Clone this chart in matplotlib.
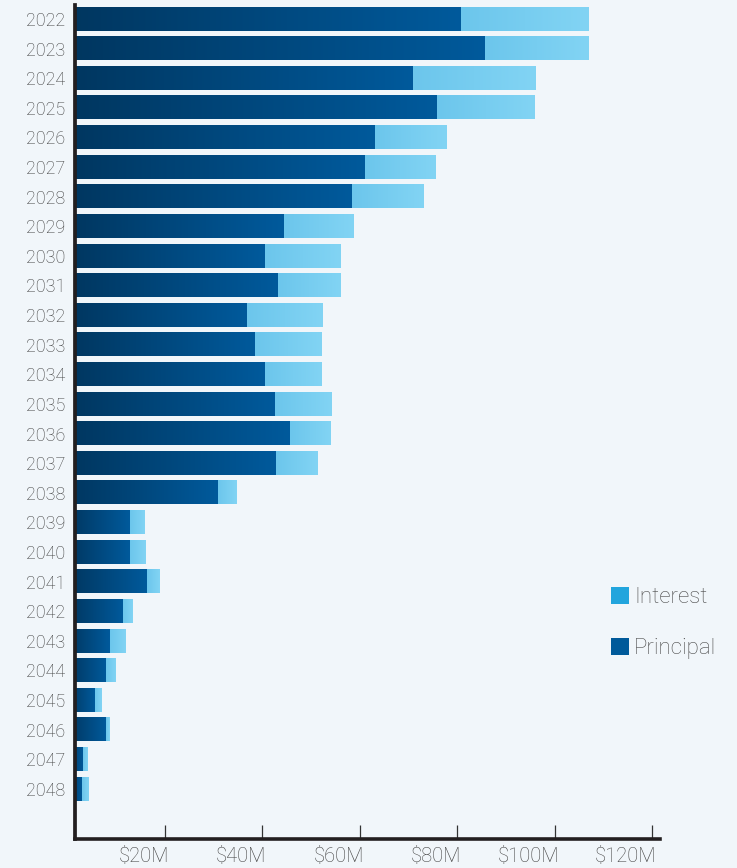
import numpy as np
import matplotlib
matplotlib.use("Agg")
import matplotlib.pyplot as plt
from matplotlib.colors import LinearSegmentedColormap
from matplotlib.patches import Patch
from matplotlib.transforms import ScaledTranslation

# debt service by year, $M
years = [str(y) for y in range(2022, 2049)]
principal = [80.8, 85.7, 70.9, 75.9, 63.1, 61.1, 58.4, 44.4, 40.5, 43.2,
             36.8, 38.5, 40.5, 42.6, 45.7, 42.8, 30.9, 12.8, 12.8, 16.3,
             11.4, 8.7, 7.9, 5.6, 7.9, 3.2, 3.0]
interest = [26.1, 21.2, 25.1, 20.1, 14.6, 14.5, 14.6, 14.2, 15.6, 12.9,
            15.4, 13.7, 11.7, 11.5, 8.4, 8.6, 3.9, 2.9, 3.1, 2.5,
            2.0, 3.1, 2.0, 1.3, 0.8, 1.0, 1.4]
xticks = [20, 40, 60, 80, 100, 120]
xticklabels = ['$20M', '$40M', '$60M', '$80M', '$100M', '$120M']

bg = '#f1f6fa'
plt.rcParams['font.family'] = ['Roboto', 'DejaVu Sans']
plt.rcParams['font.weight'] = 'light'

fig = plt.figure(figsize=(7.37, 8.68), dpi=100, facecolor=bg)
W, H = 737, 868
ax = fig.add_axes([75 / W, 1 - 839 / H, (660 - 75) / W, (839 - 5) / H])
ax.set_facecolor(bg)

ypos = np.arange(len(years))
pbars = ax.barh(ypos, principal, height=0.79, color='#004a80', zorder=2)
ibars = ax.barh(ypos, interest, left=principal, height=0.79, color='#78cff1', zorder=2)


def gradient_fill(bar, c0, c1):
    x0, y0 = bar.get_x(), bar.get_y()
    w, h = bar.get_width(), bar.get_height()
    cmap = LinearSegmentedColormap.from_list('g', [c0, c1])
    grad = np.linspace(0, 1, 256).reshape(1, -1)
    im = ax.imshow(grad, cmap=cmap, aspect='auto', interpolation='bilinear',
                   extent=(x0, x0 + w, y0 + h, y0), zorder=3)
    im.set_clip_path(bar)
    im.set_clip_box(ax.bbox)


for b in pbars:
    gradient_fill(b, '#00365f', '#005a9c')
for b in ibars:
    gradient_fill(b, '#6cc6ec', '#82d4f4')

ax.set_xlim(1.52, 121.6)
ax.set_ylim(len(years) - 1 + 1.69, -0.47)
ax.set_aspect('auto')

ax.set_yticks(ypos)
ax.set_yticklabels(years)
ax.tick_params(axis='y', length=0, pad=7, labelsize=13, labelcolor='#3f3f3f')

ax.set_xticks(xticks)
ax.set_xticklabels(xticklabels)
ax.tick_params(axis='x', direction='in', length=10, width=0.9, color='#333333',
               pad=6, labelsize=14.5, labelcolor='#444444')
off = ScaledTranslation(4 / 100, 0, fig.dpi_scale_trans)
for lbl in ax.get_xticklabels():
    lbl.set_ha('right')
    lbl.set_transform(lbl.get_transform() + off)

for s in ['top', 'right']:
    ax.spines[s].set_visible(False)
ax.spines['left'].set_linewidth(2.7)
ax.spines['bottom'].set_linewidth(2.6)
ax.spines['left'].set_color('#231f20')
ax.spines['bottom'].set_color('#231f20')
ax.spines['left'].set_zorder(5)

handles = [Patch(facecolor='#22a5dd', label='Interest'),
           Patch(facecolor='#005a9a', label='Principal')]
fig.legend(handles=handles, loc='upper left', bbox_to_anchor=(611 / W, 1 - 587 / H),
           frameon=False, fontsize=16, labelcolor='#4a4a4a', handlelength=0.8,
           handleheight=0.8, handletextpad=0.25, labelspacing=1.35,
           borderpad=0, borderaxespad=0)

plt.savefig('out.png', dpi=100, facecolor=bg)
